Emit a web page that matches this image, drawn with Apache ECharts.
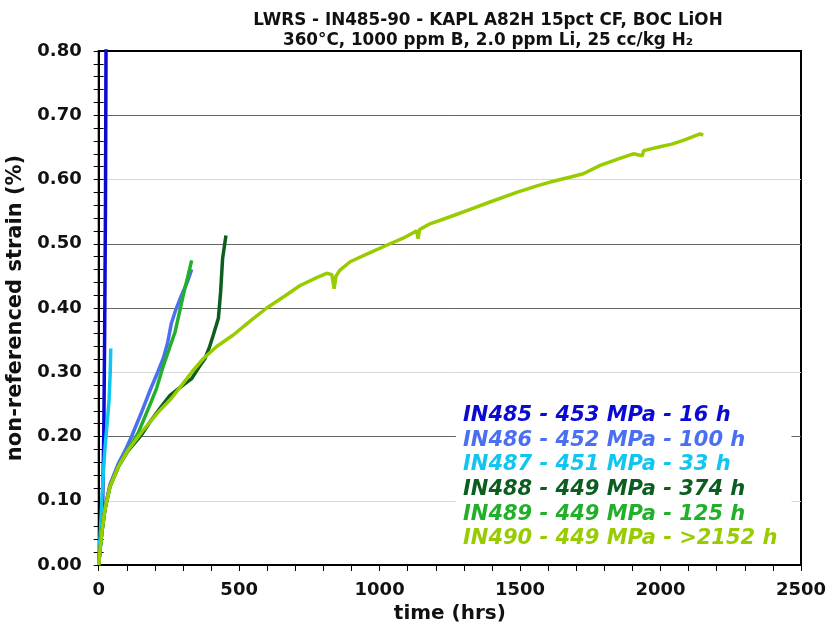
<!DOCTYPE html>
<html>
<head>
<meta charset="utf-8">
<script src="https://cdn.jsdelivr.net/npm/echarts@6/dist/echarts.min.js"></script>
<style>
  html, body { margin: 0; padding: 0; background: #fff; }
  #chart { width: 828px; height: 632px; }
</style>
</head>
<body>
<div id="chart"></div>
<script>
// time (hrs), strain (%) pairs
const IN485 = [[0,0],[5,0.03],[10,0.06],[14,0.1],[18,0.2],[21,0.35],[24,0.55],[26,0.8],[27,0.9]];
const IN486 = [[0,0],[2,0.01],[5,0.025],[11,0.05],[22,0.088],[40,0.125],[70,0.158],[94,0.178],[117,0.2],
  [150,0.235],[183,0.272],[210,0.3],[230,0.322],[245,0.345],[258,0.375],[275,0.398],[295,0.42],[315,0.44],[331,0.46]];
const IN487 = [[0,0],[3,0.03],[7,0.06],[11,0.1],[16,0.14],[22,0.18],[30,0.22],[37,0.257],[41,0.3],[43,0.337]];
const IN488 = [[0,0],[2,0.01],[5,0.025],[11,0.05],[22,0.086],[40,0.122],[70,0.153],[105,0.178],[153,0.203],
  [183,0.223],[220,0.245],[254,0.264],[300,0.28],[331,0.29],[360,0.31],[378,0.321],[395,0.34],[408,0.358],
  [426,0.384],[434,0.425],[441,0.477],[453,0.513]];
const IN489 = [[0,0],[2,0.01],[5,0.025],[11,0.05],[22,0.086],[40,0.122],[70,0.153],[105,0.18],[140,0.205],
  [183,0.25],[206,0.275],[230,0.31],[250,0.335],[272,0.363],[301,0.42],[315,0.445],[331,0.474]];
const IN490 = [[0,0],[2,0.01],[5,0.025],[11,0.05],[22,0.086],[40,0.122],[70,0.153],[105,0.179],[153,0.207],
  [212,0.238],[260,0.26],[331,0.3],[372,0.321],[420,0.34],[479,0.358],[540,0.38],[598,0.4],[660,0.418],
  [717,0.435],[780,0.448],[812,0.454],[830,0.452],[838,0.43],[845,0.45],[859,0.459],[895,0.472],[960,0.485],
  [1037,0.5],[1090,0.51],[1132,0.52],[1137,0.508],[1142,0.522],[1179,0.531],[1251,0.542],[1320,0.553],
  [1393,0.565],[1488,0.58],[1560,0.59],[1607,0.596],[1680,0.604],[1725,0.609],[1785,0.622],[1850,0.632],
  [1903,0.64],[1935,0.637],[1940,0.645],[1998,0.651],[2040,0.655],[2081,0.661],[2141,0.671],[2152,0.669]];

const NAMES = [
  'IN485 - 453 MPa - 16 h',
  'IN486 - 452 MPa - 100 h',
  'IN487 - 451 MPa - 33 h',
  'IN488 - 449 MPa - 374 h',
  'IN489 - 449 MPa - 125 h',
  'IN490 - 449 MPa - >2152 h'
];
const COLORS = ['#0a0ad2', '#4a6ff0', '#10c6f0', '#0b5e1f', '#22b02a', '#99cc00'];
const SERIES_DATA = [IN485, IN486, IN487, IN488, IN489, IN490];

const FONT = 'DejaVu Sans';
const chart = echarts.init(document.getElementById('chart'), null, { renderer: 'canvas' });

chart.setOption({
  animation: false,
  backgroundColor: '#fff',
  title: {
    text: 'LWRS - IN485-90 - KAPL A82H 15pct CF, BOC LiOH\n360°C, 1000 ppm B, 2.0 ppm Li, 25 cc/kg H₂',
    left: 483,
    top: 6,
    textAlign: 'center',
    textStyle: { fontFamily: FONT, fontSize: 16.8, fontWeight: 'bold', color: '#111', lineHeight: 20 },
  },
  grid: {
    left: 98.7, right: 27, top: 51, bottom: 67,
    outerBoundsMode: 'none',
    show: true, borderColor: '#000', borderWidth: 2, backgroundColor: '#fff',
  },
  legend: {
    orient: 'vertical',
    left: 456,
    top: 403,
    icon: 'none',
    itemWidth: 0,
    itemHeight: 14,
    itemGap: 3.7,
    padding: [2, 14, 2, 2],
    backgroundColor: '#fff',
    selectedMode: false,
    textStyle: { fontFamily: FONT, fontSize: 21, fontWeight: 'bold', fontStyle: 'italic', lineHeight: 21 },
    data: NAMES.map((n, i) => ({ name: n, textStyle: { color: COLORS[i] } })),
  },
  xAxis: {
    type: 'value',
    min: 0, max: 2500, interval: 500,
    name: 'time (hrs)',
    nameLocation: 'middle',
    nameGap: 37,
    nameTextStyle: { fontFamily: FONT, fontSize: 20, fontWeight: 'bold', color: '#111' },
    axisLine: { show: true, onZero: false, lineStyle: { color: '#000', width: 2 } },
    axisTick: { show: true, length: 6, lineStyle: { color: '#000', width: 1 } },
    minorTick: { show: true, splitNumber: 5, length: 6, lineStyle: { color: '#000', width: 1 } },
    axisLabel: {
      fontFamily: FONT, fontSize: 18, fontWeight: 'bold', color: '#111', margin: 16,
      formatter: (v) => String(v),
    },
    splitLine: { show: false },
  },
  yAxis: [
    {
      type: 'value',
      min: 0, max: 0.8, interval: 0.1,
      name: 'non-referenced strain (%)',
      nameLocation: 'middle',
      nameGap: 70,
      nameTextStyle: { fontFamily: FONT, fontSize: 21, fontWeight: 'bold', color: '#111' },
      axisLine: { show: true, lineStyle: { color: '#000', width: 2 } },
      axisTick: { show: true, length: 5, lineStyle: { color: '#000', width: 1 } },
      minorTick: { show: true, splitNumber: 5, length: 5, lineStyle: { color: '#000', width: 1 } },
      axisLabel: {
        fontFamily: FONT, fontSize: 18, fontWeight: 'bold', color: '#111', margin: 17,
        formatter: (v) => v.toFixed(2),
      },
      splitLine: {
        show: true,
        lineStyle: {
          width: 1,
          color: ['#000', '#d8d8d8', '#666', '#d8d8d8', '#666', '#666', '#d8d8d8', '#666', '#000'],
        },
      },
    },
    {
      // inner half of the crossing ticks
      type: 'value',
      min: 0, max: 0.8, interval: 0.1,
      position: 'left',
      axisLine: { show: false },
      axisTick: { show: true, inside: true, length: 5, lineStyle: { color: '#000', width: 1 } },
      minorTick: { show: true, splitNumber: 5, length: 5, lineStyle: { color: '#000', width: 1 } },
      axisLabel: { show: false },
      splitLine: { show: false },
    },
  ],
  series: SERIES_DATA.map((d, i) => ({
    name: NAMES[i],
    type: 'line',
    data: d,
    showSymbol: false,
    symbol: 'none',
    clip: true,
    lineStyle: { color: COLORS[i], width: 3.5 },
    itemStyle: { color: COLORS[i] },
  })),
});
</script>
</body>
</html>
